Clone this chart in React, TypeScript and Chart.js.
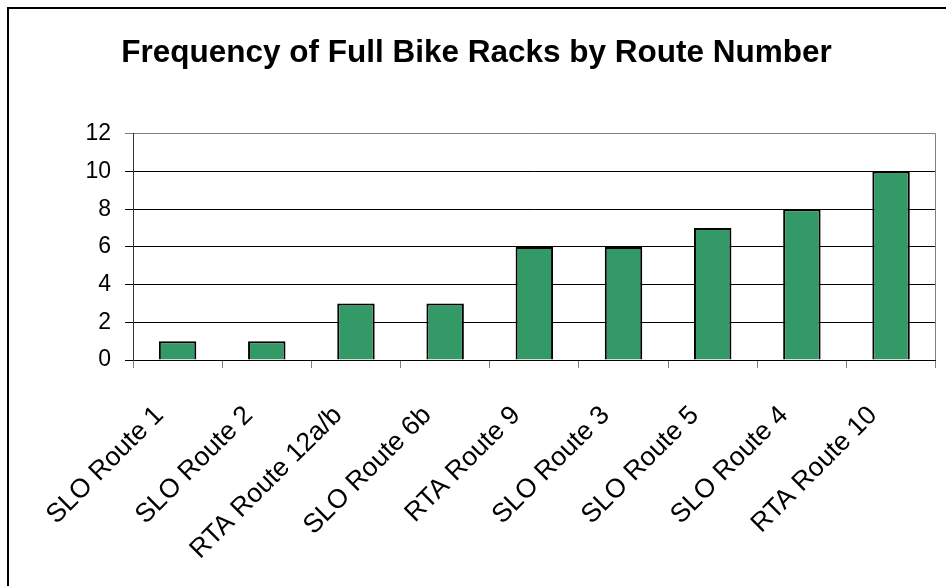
import React, { useEffect, useRef } from "react";
import { Chart, registerables } from "chart.js";

Chart.register(...registerables);

const TITLE = "Frequency of Full Bike Racks by Route Number";
const routes = [
  "SLO Route 1",
  "SLO Route 2",
  "RTA Route 12a/b",
  "SLO Route 6b",
  "RTA Route 9",
  "SLO Route 3",
  "SLO Route 5",
  "SLO Route 4",
  "RTA Route 10",
];
const fullRackCounts = [1, 1, 3, 3, 6, 6, 7, 8, 10];
const yMin = 0;
const yMax = 12;
const yStep = 2;

const FONT = "'Liberation Sans', Arial, sans-serif";

const framePlugin = {
  id: "frame",
  beforeDraw(chart: any) {
    const { ctx, width, height } = chart;
    ctx.save();
    ctx.fillStyle = "#ffffff";
    ctx.fillRect(0, 0, width, height);
    ctx.restore();
  },
  afterDraw(chart: any) {
    const { ctx, chartArea } = chart;
    ctx.save();
    ctx.strokeStyle = "#808080";
    ctx.lineWidth = 1;
    ctx.beginPath();
    ctx.moveTo(Math.round(chartArea.right) - 0.5, chartArea.top);
    ctx.lineTo(Math.round(chartArea.right) - 0.5, chartArea.bottom);
    ctx.stroke();
    ctx.strokeStyle = "#000000";
    ctx.lineWidth = 2;
    ctx.strokeRect(8, 8, 2000, 2000);
    ctx.restore();
  },
};

export default function App() {
  const ref = useRef<HTMLCanvasElement | null>(null);

  useEffect(() => {
    document.body.style.margin = "0";
    const canvas = ref.current;
    if (!canvas) return;
    const chart = new Chart(canvas, {
      type: "bar",
      data: {
        labels: routes,
        datasets: [
          {
            data: fullRackCounts,
            backgroundColor: "#339966",
            borderColor: "#000000",
            borderWidth: 2,
            categoryPercentage: 1,
            barPercentage: 0.42,
          },
        ],
      },
      options: {
        responsive: false,
        animation: false,
        devicePixelRatio: 1,
        layout: { padding: { left: 15, right: 8, top: 0, bottom: 0 } },
        plugins: {
          legend: { display: false },
          tooltip: { enabled: false },
          title: {
            display: true,
            text: TITLE,
            color: "#000000",
            font: { family: FONT, size: 31.5, weight: "bold" },
            padding: { top: 34, bottom: 62 },
          },
        },
        scales: {
          x: {
            grid: {
              offset: true,
              drawOnChartArea: false,
              drawTicks: true,
              tickLength: 8,
              color: "#808080",
            },
            border: { display: true, color: "#000000", width: 1 },
            ticks: {
              color: "#000000",
              font: { family: FONT, size: 26.5 },
              minRotation: 45,
              maxRotation: 45,
              autoSkip: false,
              padding: 32,
              labelOffset: -18,
            },
            afterFit(scale: any) {
              scale.height = 226;
            },
          },
          y: {
            min: yMin,
            max: yMax,
            grid: {
              color: (c: any) => (c.tick && c.tick.value === yMax ? "#808080" : "#000000"),
              drawTicks: true,
              tickLength: 8,
            },
            border: { display: true, color: "#333333", width: 1 },
            ticks: {
              stepSize: yStep,
              color: "#000000",
              font: { family: FONT, size: 23 },
              padding: 14,
            },
            afterFit(scale: any) {
              scale.width = 118;
            },
          },
        },
      },
      plugins: [framePlugin],
    });
    return () => chart.destroy();
  }, []);

  return (
    <div style={{ width: 946, height: 586 }}>
      <canvas ref={ref} width={946} height={586} style={{ display: "block" }} />
    </div>
  );
}
